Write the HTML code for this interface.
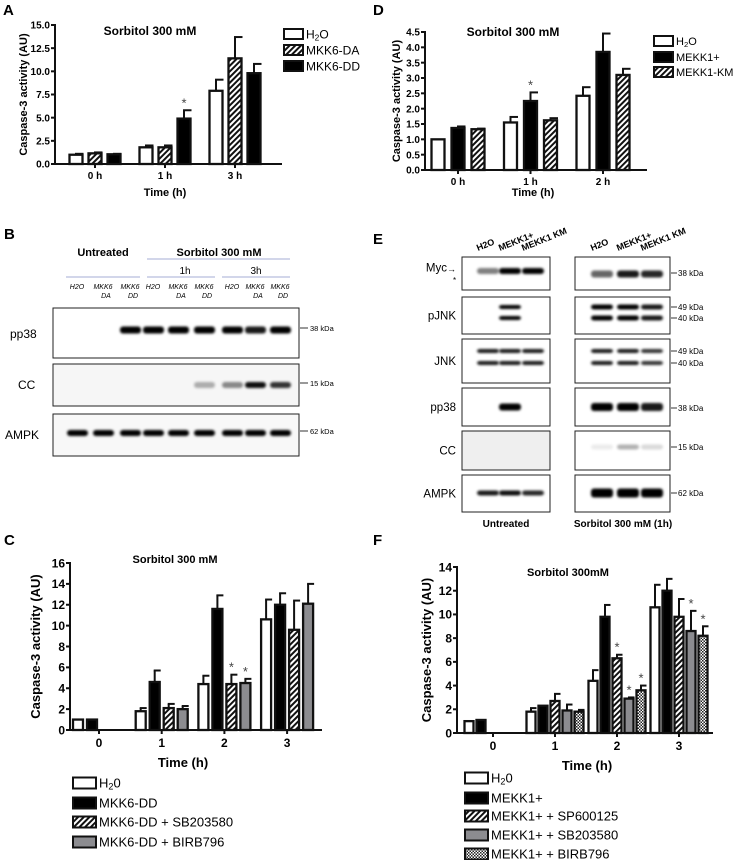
<!DOCTYPE html>
<html><head><meta charset="utf-8"><style>
html,body{margin:0;padding:0;background:#fff;}
svg{display:block;font-family:"Liberation Sans",Arial,sans-serif;}
</style></head><body>
<svg id="fig" width="735" height="860" viewBox="0 0 735 860" xmlns="http://www.w3.org/2000/svg">
<defs>
<pattern id="hatch" patternUnits="userSpaceOnUse" width="4" height="4" patternTransform="rotate(45)"><rect width="4" height="4" fill="#fff"/><rect width="2" height="4" fill="#111"/></pattern>
<pattern id="check" patternUnits="userSpaceOnUse" width="3" height="3"><rect width="3" height="3" fill="#fff"/><rect width="1.5" height="1.5" fill="#222"/><rect x="1.5" y="1.5" width="1.5" height="1.5" fill="#222"/></pattern>
<filter id="blur" x="-20%" y="-60%" width="140%" height="220%"><feGaussianBlur stdDeviation="1.3"/></filter>
</defs>
<g font-weight="bold" font-size="15">
<text x="3" y="15">A</text>
<text x="373" y="15">D</text>
<text x="4" y="239">B</text>
<text x="373" y="244">E</text>
<text x="4" y="545">C</text>
<text x="373" y="545">F</text>
</g>

<g>
<text x="103" y="256" text-anchor="middle" font-weight="bold" font-size="11">Untreated</text>
<text x="219" y="256" text-anchor="middle" font-weight="bold" font-size="11">Sorbitol 300 mM</text>
<line x1="147" y1="259" x2="290" y2="259" stroke="#8890c8" stroke-width="0.8"/>
<text x="185" y="274" text-anchor="middle" font-size="10">1h</text>
<text x="256" y="274" text-anchor="middle" font-size="10">3h</text>
<line x1="66" y1="277" x2="140" y2="277" stroke="#8890c8" stroke-width="0.8"/>
<line x1="147" y1="277" x2="215" y2="277" stroke="#8890c8" stroke-width="0.8"/>
<line x1="222" y1="277" x2="290" y2="277" stroke="#8890c8" stroke-width="0.8"/>
<g id="bLanes" font-size="7" font-style="italic" text-anchor="middle"></g>
<rect x="53" y="308" width="246" height="50" fill="#fff" stroke="#222" stroke-width="1"/>
<rect x="53" y="364" width="246" height="42" fill="#f6f6f6" stroke="#222" stroke-width="1"/>
<rect x="53" y="414" width="246" height="42" fill="#f8f8f8" stroke="#222" stroke-width="1"/>
<g id="bBands"></g>
<text x="10" y="338" font-size="12">pp38</text>
<text x="18" y="389" font-size="12">CC</text>
<text x="5" y="439" font-size="12">AMPK</text>
<g font-size="7.5">
<line x1="300" y1="328" x2="308" y2="328" stroke="#333"/><text x="310" y="331">38 kDa</text>
<line x1="300" y1="383" x2="308" y2="383" stroke="#333"/><text x="310" y="386">15 kDa</text>
<line x1="300" y1="431" x2="308" y2="431" stroke="#333"/><text x="310" y="434">62 kDa</text>
</g>
</g>

<g>
<g id="eHeaders" font-size="9" font-weight="bold"></g>
<g id="eBoxes"></g>
<g id="eBands"></g>
<text x="506" y="527" text-anchor="middle" font-weight="bold" font-size="10">Untreated</text>
<text x="623" y="527" text-anchor="middle" font-weight="bold" font-size="10">Sorbitol 300 mM (1h)</text>
<text x="447" y="272" font-size="9">→</text>
<text x="453" y="283" font-size="8">*</text>
</g>

<g id="chartA"></g>
<g id="chartD"></g>
<g id="chartC"></g>
<g id="chartF"></g>
</svg>
<script>
const aCategories=['0 h','1 h','3 h'];
const aTicks=['0.0','2.5','5.0','7.5','10.0','12.5','15.0'];
const aH2O=[1.0,1.8,7.9];
const aH2OErr=[0.1,0.2,1.2];
const aDA=[1.15,1.8,11.4];
const aDAErr=[0.1,0.2,2.3];
const aDD=[1.05,4.9,9.8];
const aDDErr=[0.05,0.9,1.0];
const aStars=[[2,1]];

const dCategories=['0 h','1 h','2 h'];
const dTicks=['0.0','0.5','1.0','1.5','2.0','2.5','3.0','3.5','4.0','4.5'];
const dH2O=[1.0,1.55,2.42];
const dH2OErr=[0,0.18,0.28];
const dMEKK=[1.37,2.25,3.85];
const dMEKKErr=[0.05,0.28,0.6];
const dKM=[1.33,1.62,3.1];
const dKMErr=[0.02,0.07,0.2];
const dStars=[[1,1]];

const cCategories=['0','1','2','3'];
const cTicks=['0','2','4','6','8','10','12','14','16'];
const cH2O=[1.0,1.8,4.4,10.6];
const cH2OErr=[0,0.3,0.8,1.9];
const cDD=[1.0,4.6,11.6,12.0];
const cDDErr=[0,1.1,1.3,1.1];
const cSB=[0,2.1,4.4,9.6];
const cSBErr=[0,0.4,0.9,2.8];
const cBIRB=[0,2.0,4.5,12.1];
const cBIRBErr=[0,0.3,0.4,1.9];
const cStars=[[2,2],[3,2]];

const fCategories=['0','1','2','3'];
const fTicks=['0','2','4','6','8','10','12','14'];
const fH2O=[1.0,1.8,4.4,10.6];
const fH2OErr=[0,0.3,0.9,1.9];
const fMEKK=[1.1,2.3,9.8,12.0];
const fMEKKErr=[0,0,1.0,1.0];
const fSP=[0,2.7,6.3,9.8];
const fSPErr=[0,0.6,0.3,1.5];
const fSB=[0,1.9,2.9,8.6];
const fSBErr=[0,0.5,0.1,1.7];
const fBIRB=[0,1.8,3.6,8.2];
const fBIRBErr=[0,0.15,0.4,0.8];
const fStars=[[2,2],[3,2],[4,2],[3,3],[4,3]];

const NS='http://www.w3.org/2000/svg';
function mk(parent,tag,attrs,txt){const e=document.createElementNS(NS,tag);for(const k in attrs)e.setAttribute(k,attrs[k]);if(txt!==undefined)e.textContent=txt;parent.appendChild(e);return e;}

function drawChart(g,cfg,cats,ticks,series,stars,legend){
  const maxV=parseFloat(ticks[ticks.length-1]);
  const y=v=>cfg.y0-v/maxV*(cfg.y0-cfg.yTop);
  const cx=i=>cfg.c0+i*cfg.gw;
  const n=series.length;
  const barX=(i,s)=>cx(i)-(n*cfg.step-(cfg.step-cfg.bw))/2+s*cfg.step;
  series.forEach((se,s)=>{
    cats.forEach((c,i)=>{
      const v=se.vals[i]; if(!v) return;
      const e=se.errs[i]; const bx=barX(i,s);
      if(e>0){
        const ln=mk(g,'line',{x1:bx+cfg.bw/2,x2:bx+cfg.bw/2,y1:y(v),y2:y(v+e),stroke:'#111','stroke-width':2});
        
        
        const cap=mk(g,'line',{x1:bx+cfg.bw/2-1,x2:bx+cfg.bw,y1:y(v+e),y2:y(v+e),stroke:'#111','stroke-width':2});
        
        
      }
      const r=mk(g,'rect',{x:bx+1,y:y(v),width:cfg.bw-2,height:cfg.y0-y(v),fill:se.fill,stroke:'#111','stroke-width':2.3});
      
      
    });
  });
  stars.forEach(([s,i])=>{
    const se=series[s]; const v=se.vals[i]+se.errs[i];
    const t=mk(g,'text',{x:barX(i,s)+cfg.bw/2,y:y(v)-3,'text-anchor':'middle','font-size':13,fill:'#444'},'*');
    
    
  });
  const ya=mk(g,'line',{x1:cfg.x0,x2:cfg.x0,y1:cfg.yTop-1,y2:cfg.y0+1,stroke:'#111','stroke-width':2});
  
  
  const xa=mk(g,'line',{x1:cfg.x0-4,x2:cfg.x1,y1:cfg.y0,y2:cfg.y0,stroke:'#111','stroke-width':2});
  
  
  ticks.forEach(tk=>{
    const v=parseFloat(tk);
    mk(g,'line',{x1:cfg.x0-4,x2:cfg.x0,y1:y(v),y2:y(v),stroke:'#111','stroke-width':2});
    const t=mk(g,'text',{x:cfg.x0-5,y:y(v)+cfg.tfs*0.36,'text-anchor':'end','font-size':cfg.tfs,'font-weight':'bold'},tk);
    
    
  });
  cats.forEach((c,i)=>{
    mk(g,'line',{x1:cx(i),x2:cx(i),y1:cfg.y0,y2:cfg.y0+4,stroke:'#111','stroke-width':2});
    const t=mk(g,'text',{x:cx(i),y:cfg.y0+cfg.tfs+5,'text-anchor':'middle','font-size':cfg.tfs,'font-weight':'bold'},c);
    
    
  });
  const yt=mk(g,'text',{x:0,y:0,transform:`translate(${cfg.ytx},${(cfg.y0+cfg.yTop)/2}) rotate(-90)`,'text-anchor':'middle','font-size':cfg.yfs,'font-weight':'bold'},'Caspase-3 activity (AU)');
  
  
  const xt=mk(g,'text',{x:cfg.xtx,y:cfg.xty,'text-anchor':'middle','font-size':cfg.xfs,'font-weight':'bold'},cfg.xtitle);
  
  
  const tt=mk(g,'text',{x:cfg.tx,y:cfg.ty,'text-anchor':'middle','font-size':cfg.tfs2,'font-weight':'bold'},cfg.title);
  
  
  series.forEach((se,s)=>{
    const ly=legend.ys[s];
    const r=mk(g,'rect',{x:legend.x,y:ly-legend.h/2,width:legend.w,height:legend.h,fill:se.fill,stroke:'#111','stroke-width':2});
    
    
    const t=mk(g,'text',{x:legend.x+legend.w+3,y:ly+legend.fs*0.36,'font-size':legend.fs},'');
    
    
    t.innerHTML=se.label;
  });
}
const sub='<tspan font-size="70%" dy="2">2</tspan><tspan dy="-2">';
drawChart(document.getElementById('chartA'),
 {x0:55,x1:282,y0:164,yTop:25,c0:95,gw:70,bw:15,step:19,tfs:10,yfs:11,ytx:27,xtx:165,xty:196,xfs:11,xtitle:'Time  (h)',tx:150,ty:35,tfs2:12,title:'Sorbitol 300 mM'},
 aCategories,aTicks,
 [{name:'h2o',vals:aH2O,errs:aH2OErr,fill:'#fff',label:'H'+sub+'O</tspan>'},
  {name:'mkk6-da',vals:aDA,errs:aDAErr,fill:'url(#hatch)',label:'MKK6-DA'},
  {name:'mkk6-dd',vals:aDD,errs:aDDErr,fill:'#000',label:'MKK6-DD'}],
 aStars,{x:284,w:19,h:10,ys:[34,50,66],fs:12});
drawChart(document.getElementById('chartD'),
 {x0:425,x1:647,y0:170,yTop:32,c0:458,gw:72.5,bw:15,step:20,tfs:10,yfs:11,ytx:400,xtx:533,xty:196,xfs:11,xtitle:'Time  (h)',tx:513,ty:36,tfs2:12,title:'Sorbitol 300 mM'},
 dCategories,dTicks,
 [{name:'h2o',vals:dH2O,errs:dH2OErr,fill:'#fff',label:'H'+sub+'O</tspan>'},
  {name:'mekk1',vals:dMEKK,errs:dMEKKErr,fill:'#000',label:'MEKK1+'},
  {name:'mekk1-km',vals:dKM,errs:dKMErr,fill:'url(#hatch)',label:'MEKK1-KM'}],
 dStars,{x:654,w:19,h:10,ys:[41,57,72],fs:11});
drawChart(document.getElementById('chartC'),
 {x0:70,x1:322,y0:730,yTop:563,c0:99,gw:62.7,bw:12,step:14,tfs:12,yfs:13,ytx:40,xtx:183,xty:767,xfs:13,xtitle:'Time (h)',tx:175,ty:563,tfs2:11,title:'Sorbitol 300 mM'},
 cCategories,cTicks,
 [{name:'h2o',vals:cH2O,errs:cH2OErr,fill:'#fff',label:'H'+sub+'0</tspan>'},
  {name:'mkk6-dd',vals:cDD,errs:cDDErr,fill:'#000',label:'MKK6-DD'},
  {name:'mkk6-dd-sb203580',vals:cSB,errs:cSBErr,fill:'url(#hatch)',label:'MKK6-DD + SB203580'},
  {name:'mkk6-dd-birb796',vals:cBIRB,errs:cBIRBErr,fill:'#8c8c90',label:'MKK6-DD + BIRB796'}],
 cStars,{x:73,w:23,h:11,ys:[783,803,822,842],fs:13});
drawChart(document.getElementById('chartF'),
 {x0:457,x1:713,y0:733,yTop:567,c0:493,gw:62,bw:11,step:12,tfs:12,yfs:13,ytx:431,xtx:587,xty:770,xfs:13,xtitle:'Time (h)',tx:568,ty:576,tfs2:11,title:'Sorbitol 300mM'},
 fCategories,fTicks,
 [{name:'h2o',vals:fH2O,errs:fH2OErr,fill:'#fff',label:'H'+sub+'0</tspan>'},
  {name:'mekk1',vals:fMEKK,errs:fMEKKErr,fill:'#000',label:'MEKK1+'},
  {name:'mekk1-sp600125',vals:fSP,errs:fSPErr,fill:'url(#hatch)',label:'MEKK1+ + SP600125'},
  {name:'mekk1-sb203580',vals:fSB,errs:fSBErr,fill:'#8c8c90',label:'MEKK1+ + SB203580'},
  {name:'mekk1-birb796',vals:fBIRB,errs:fBIRBErr,fill:'url(#check)',label:'MEKK1+ + BIRB796'}],
 fStars,{x:465,w:23,h:11,ys:[778,798,816,835,854],fs:13});

const bLaneX=[77,103,130,153,178,204,232,255,280];
const bTop=['H2O','MKK6','MKK6','H2O','MKK6','MKK6','H2O','MKK6','MKK6'];
const bBot=['','DA','DD','','DA','DD','','DA','DD'];
const bpp38=[0,0,1,1,1,1,1,0.9,1];
const bcc=[0,0,0,0,0,0.3,0.45,0.95,0.8];
const bampk=[1,1,1,1,1,1,1,1,1];
(function(){
  const L=document.getElementById('bLanes'), B=document.getElementById('bBands');
  bLaneX.forEach((x,i)=>{
    const t=mk(L,'text',{x:x,y:289},bTop[i]);
    
    
    if(bBot[i]) mk(L,'text',{x:x+3,y:298},bBot[i]);
  });
  const band=(arr,yc,h,name)=>arr.forEach((v,i)=>{ if(v<=0) return;
    const r=mk(B,'rect',{x:bLaneX[i]-10,y:yc-h/2,width:21,height:h,rx:3,fill:'#000','fill-opacity':Math.min(1,v),filter:'url(#blur)'});
    
    });
  band(bpp38,330,7,'band-pp38');
  band(bcc,385,6,'band-cc');
  band(bampk,433,6,'band-ampk');
})();

const eLeftX=[488,510,533], eRightX=[602,628,652];
const eLanes=['H2O','MEKK1+','MEKK1 KM'];
const eRows=[{n:'Myc',y:257,h:33,k:[['38 kDa',273]]},{n:'pJNK',y:297,h:37,k:[['49 kDa',307],['40 kDa',318]]},{n:'JNK',y:339,h:44,k:[['49 kDa',351],['40 kDa',363]]},{n:'pp38',y:388,h:38,k:[['38 kDa',408]]},{n:'CC',y:431,h:39,k:[['15 kDa',447]]},{n:'AMPK',y:475,h:37,k:[['62 kDa',493]]}];
(function(){
  const H=document.getElementById('eHeaders'),Bx=document.getElementById('eBoxes'),Bd=document.getElementById('eBands');
  [eLeftX,eRightX].forEach(xs=>xs.forEach((x,i)=>{
    const t=mk(H,'text',{transform:`translate(${x-10},${251}) rotate(-22)`},eLanes[i]);
    
    
  }));
  eRows.forEach(r=>{
    const a=mk(Bx,'rect',{x:462,y:r.y,width:88,height:r.h,fill:r.n==='CC'?'#efefef':'#fff',stroke:'#222'});
    
    
    const b=mk(Bx,'rect',{x:575,y:r.y,width:95,height:r.h,fill:'#fff',stroke:'#222'});
    
    
    const t=mk(Bx,'text',{x:r.n==='Myc'?447:456,y:r.y+r.h/2+(r.n==='Myc'?-2:4),'text-anchor':'end','font-size':11.5},r.n);
    
    
    r.k.forEach(([lab,yy])=>{mk(Bx,'line',{x1:671,x2:677,y1:yy,y2:yy,stroke:'#333'});mk(Bx,'text',{x:678,y:yy+3,'font-size':8},lab);});
  });
  const bands=[
   [eLeftX,[0.5,1,1],[271],6],[eRightX,[0.6,0.9,0.85],[274],7],
   [eLeftX,[0,1,0],[307,318],4],[eRightX,[1,1,0.9],[307,318],5],
   [eLeftX,[0.9,0.9,0.9],[351,363],4],[eRightX,[0.9,0.9,0.8],[351,363],4],
   [eLeftX,[0,1,0],[407],7],[eRightX,[1,1,0.9],[407],8],
   [eRightX,[0.08,0.3,0.15],[447],5],
   [eLeftX,[0.9,0.95,0.85],[493],5],[eRightX,[1,1,1],[493],9]];
  bands.forEach(([xs,vals,ys,h])=>xs.forEach((x,i)=>{ if(!vals[i]) return; ys.forEach(yy=>{
    const r=mk(Bd,'rect',{x:x-11,y:yy-h/2,width:22,height:h,rx:3,fill:'#000','fill-opacity':vals[i],filter:'url(#blur)'});
    
    
  });}));
})();
</script>
</body></html>
